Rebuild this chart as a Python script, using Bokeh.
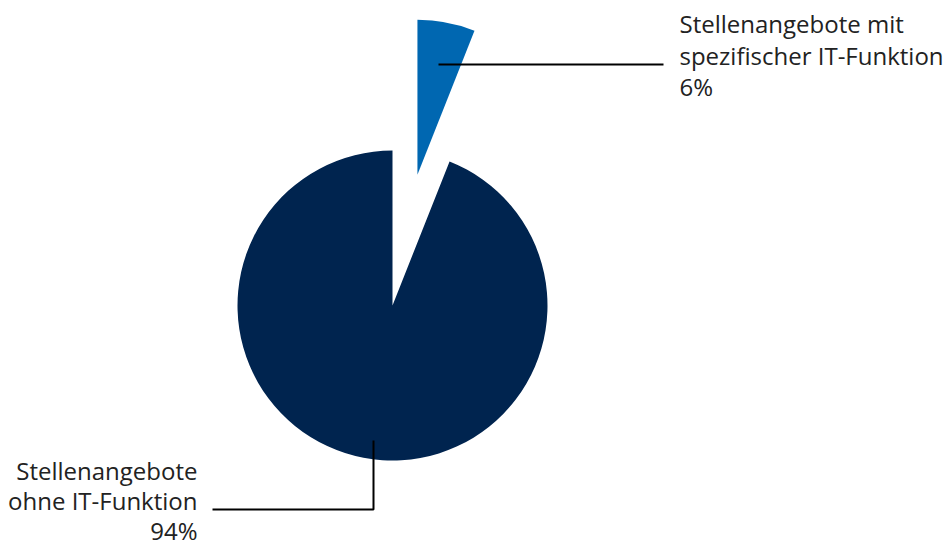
import math
from bokeh.plotting import figure
from bokeh.models import Range1d, ColumnDataSource
from bokeh.core.properties import value
from bokeh.embed import file_html
from bokeh.resources import INLINE

# ---- data ----
categories = ["Stellenangebote ohne IT-Funktion", "Stellenangebote mit spezifischer IT-Funktion"]
shares = [94, 6]
label_lines = [
    ["Stellenangebote", "ohne IT-Funktion", "94%"],
    ["Stellenangebote mit", "spezifischer IT-Funktion", "6%"],
]
colors = ["#00244f", "#0067b1"]

# ---- layout (page pixel coordinates; y data = H - page y) ----
W, H = 944, 547
def Y(py):
    return H - py

cx, cy = 392, Y(305)
R = 155
explode = [0, 133]
FONT = "Open Sans"
FS = "24px"
TXT = "#222222"

p = figure(width=W, height=H, output_backend="svg", toolbar_location=None,
           x_range=Range1d(0, W), y_range=Range1d(0, H), min_border=0,
           background_fill_color="white", border_fill_color="white")
p.axis.visible = False
p.grid.visible = False
p.outline_line_color = None

total = float(sum(shares))
small_span = shares[1] / total * 2 * math.pi
top = math.pi / 2
angles = {
    1: (top - small_span, top),
    0: (top, top - small_span + 2 * math.pi),
}
xs, ys, starts, ends = [], [], [], []
for i in range(len(shares)):
    a0, a1 = angles[i]
    mid = (a0 + a1) / 2
    xs.append(cx + explode[i] * math.cos(mid))
    ys.append(cy + explode[i] * math.sin(mid))
    starts.append(a0)
    ends.append(a1)

src = ColumnDataSource(dict(x=xs, y=ys, start=starts, end=ends, color=colors, cat=categories))
p.wedge(x="x", y="y", radius=R, start_angle="start", end_angle="end",
        direction="anticlock", fill_color="color", line_color=None, source=src)

# leader lines
p.line([438, 663], [Y(64), Y(64)], line_color="black", line_width=2)
p.line([212, 373, 373], [Y(509), Y(509), Y(440)], line_color="black", line_width=2)

# labels
lh = 31.5
for j, t in enumerate(label_lines[1]):
    p.text(x=[679], y=[Y(23 + j * lh)], text=[t], text_font=value(FONT),
           text_font_size=FS, text_color=TXT, text_align="left",
           text_baseline="alphabetic")
lh2 = 30
for j, t in enumerate(label_lines[0]):
    p.text(x=[197], y=[Y(470 + j * lh2)], text=[t], text_font=value(FONT),
           text_font_size=FS, text_color=TXT, text_align="right",
           text_baseline="alphabetic")

open("out.html", "w").write(file_html(p, INLINE))
